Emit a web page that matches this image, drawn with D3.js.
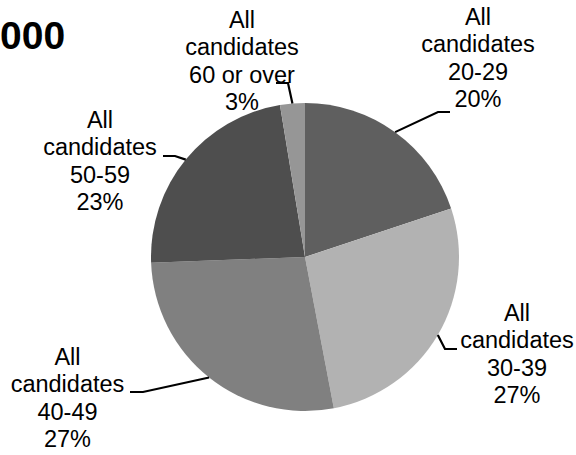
<!DOCTYPE html>
<html>
<head>
<meta charset="utf-8">
<script src="https://cdn.jsdelivr.net/npm/d3@7"></script>
<style>
  html, body { margin: 0; padding: 0; background: #fff; }
  svg { display: block; }
</style>
</head>
<body>
<svg id="chart" width="576" height="455"></svg>
<script>
// ---- data ----
const titleText = "000";
const categories = ["All candidates 20-29", "All candidates 30-39", "All candidates 40-49", "All candidates 50-59", "All candidates 60 or over"];
const labelLines = [
  ["All", "candidates", "20-29"],
  ["All", "candidates", "30-39"],
  ["All", "candidates", "40-49"],
  ["All", "candidates", "50-59"],
  ["All", "candidates", "60 or over"]
];
const values = [19.9, 27.1, 27.4, 23.0, 2.6];
const percentLabels = ["20%", "27%", "27%", "23%", "3%"];

// ---- styles / layout ----
const colors = ["#5f5f5f", "#b2b2b2", "#808080", "#4e4e4e", "#969696"];
const cx = 305, cy = 257, radius = 154;
const fontSize = 23.5, lineH = 27.3;
// label layout: centre x, first baseline, elbow point, end of horizontal leader
const labelLayout = [
  { x: 478, y: 25,  elbow: [438, 112], end: [450, 112] },
  { x: 517, y: 321, elbow: [445, 349], end: [457, 349] },
  { x: 67.5, y: 365, elbow: [143, 392], end: [130, 392] },
  { x: 100, y: 128, elbow: [175, 156], end: [163, 156] },
  { x: 242, y: 28,  elbow: [288, 83],  end: [276, 83] }
];

const svg = d3.select("#chart");

// title
svg.append("text")
  .attr("x", 0).attr("y", 49)
  .attr("text-anchor", "start")
  .attr("font-family", "Liberation Sans, Arial, sans-serif")
  .attr("font-weight", "bold")
  .attr("font-size", 39)
  .attr("fill", "#000")
  .text(titleText);

const pie = d3.pie().sort(null).value(d => d);
const arcs = pie(values);
const arc = d3.arc().innerRadius(0).outerRadius(radius);

const g = svg.append("g").attr("transform", `translate(${cx},${cy})`);
g.selectAll("path.slice")
  .data(arcs)
  .join("path")
  .attr("class", "slice")
  .attr("d", arc)
  .attr("fill", (d, i) => colors[i]);

// leader lines
arcs.forEach((a, i) => {
  const mid = (a.startAngle + a.endAngle) / 2;
  const ex = cx + radius * Math.sin(mid);
  const ey = cy - radius * Math.cos(mid);
  const L = labelLayout[i];
  svg.append("polyline")
    .attr("points", [[ex, ey], L.elbow, L.end].map(p => p.join(",")).join(" "))
    .attr("fill", "none")
    .attr("stroke", "#000")
    .attr("stroke-width", 2.2);
});

// labels
labelLines.forEach((lines, i) => {
  const L = labelLayout[i];
  const t = svg.append("text")
    .attr("text-anchor", "middle")
    .attr("font-family", "Liberation Sans, Arial, sans-serif")
    .attr("font-size", fontSize)
    .attr("fill", "#000");
  lines.concat([percentLabels[i]]).forEach((s, k) => {
    t.append("tspan").attr("x", L.x).attr("y", L.y + k * lineH).text(s);
  });
});
</script>
</body>
</html>
